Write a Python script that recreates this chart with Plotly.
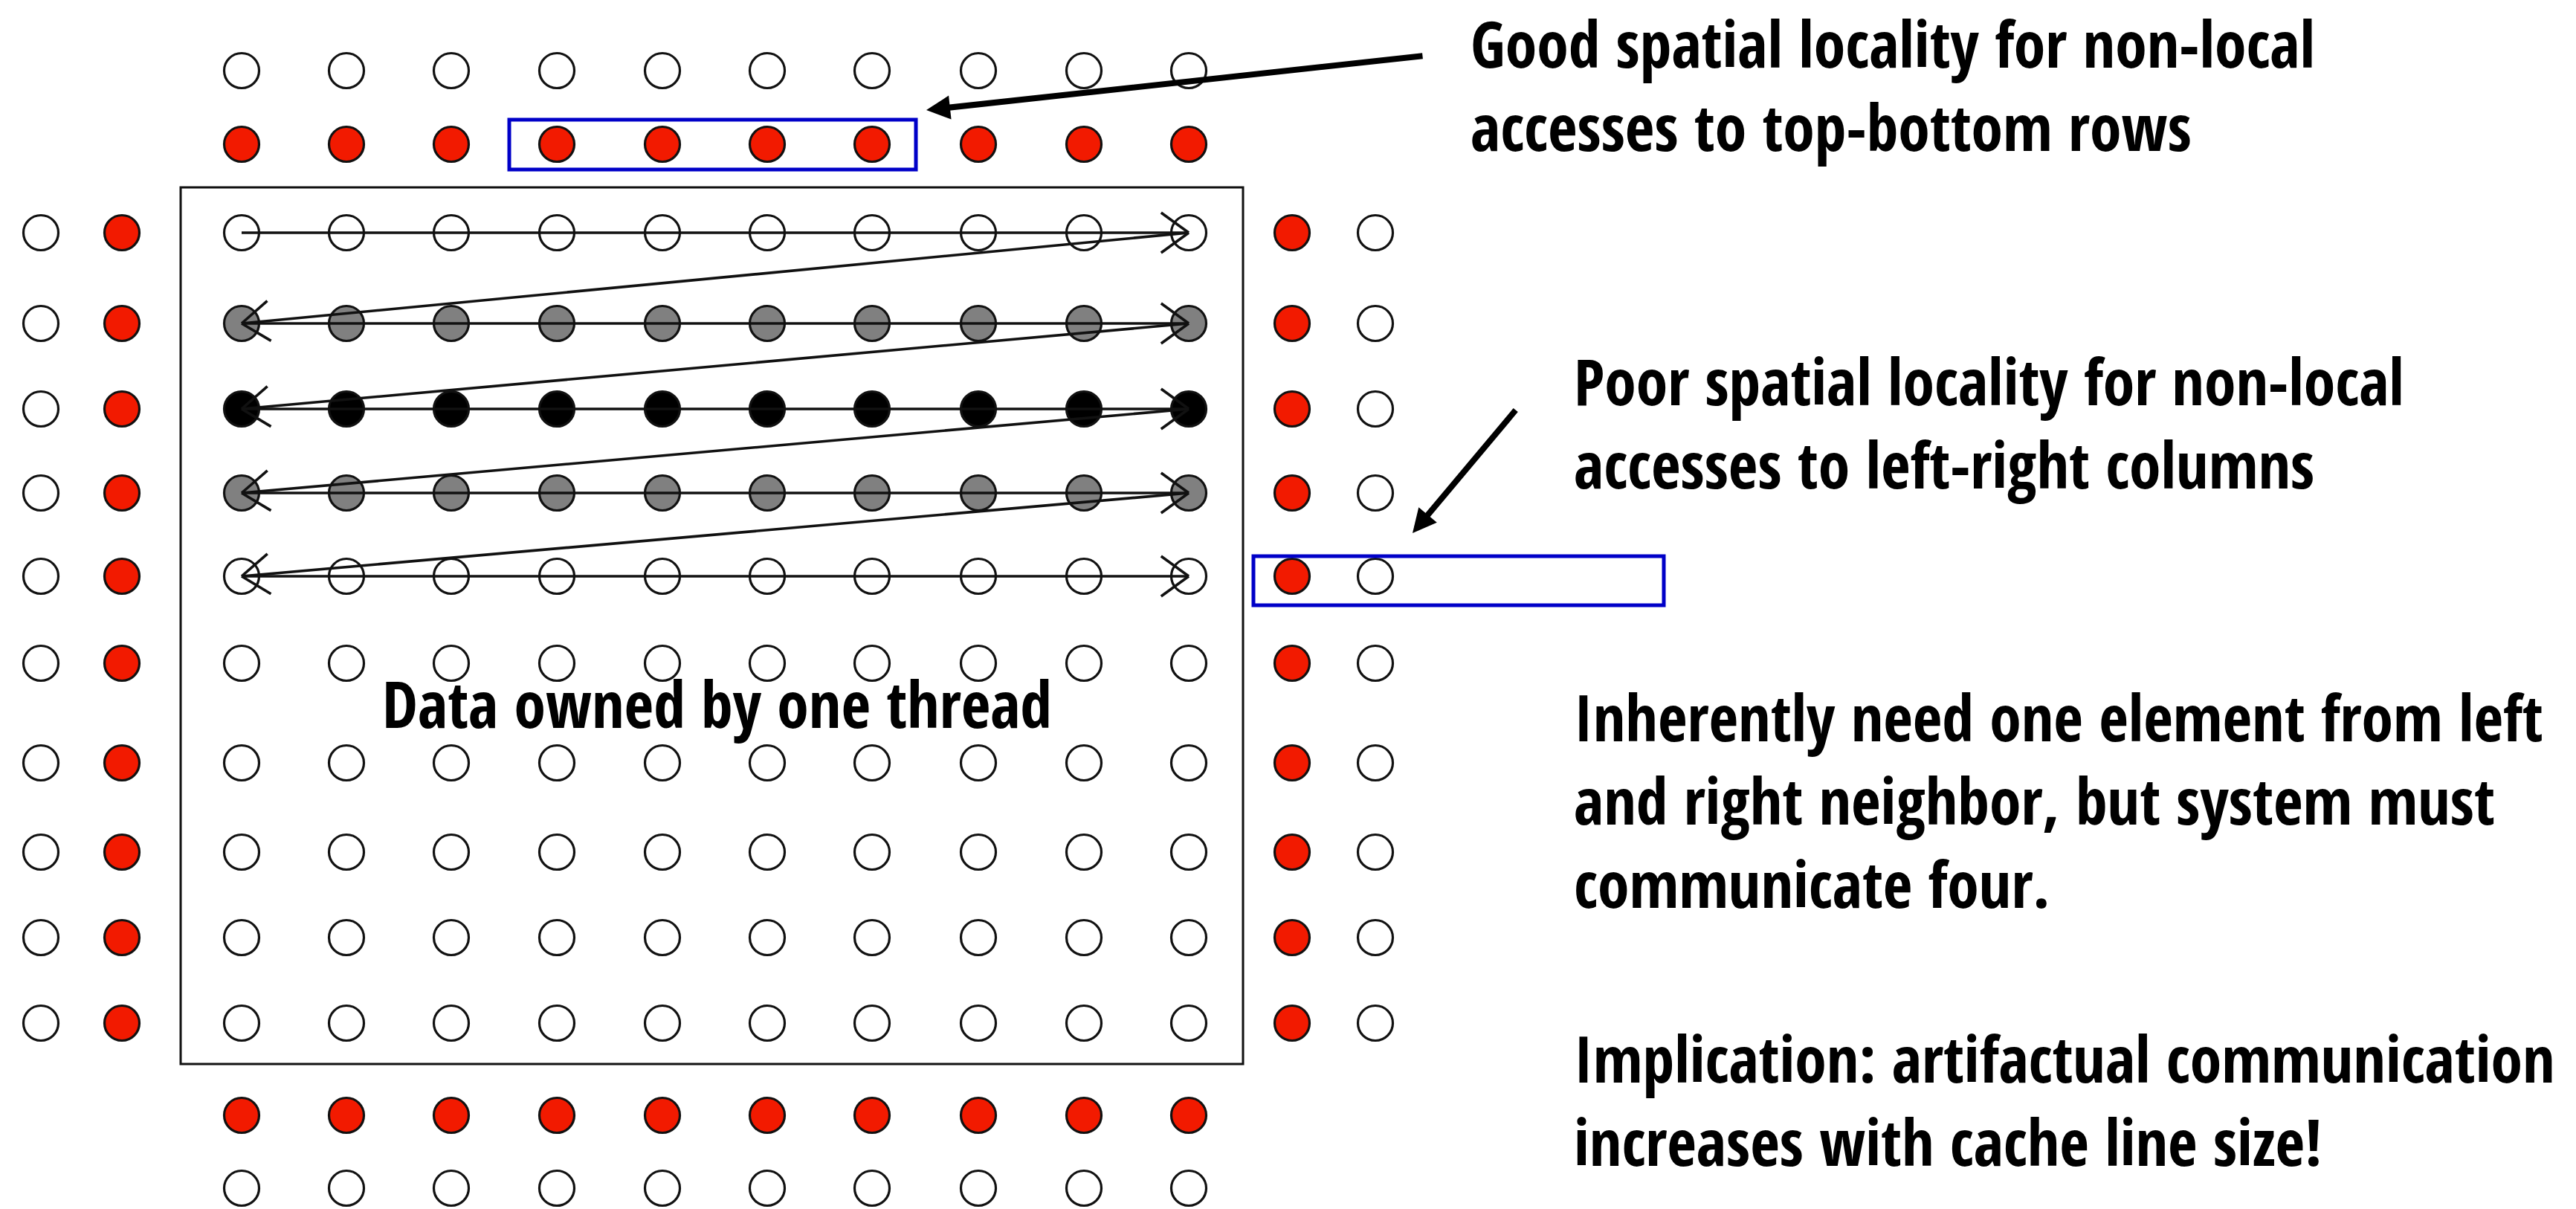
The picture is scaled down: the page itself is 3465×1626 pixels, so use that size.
import math
import plotly.graph_objects as go

# ---- data (pixel layout of the reference diagram) ----
col_x = [325, 466, 607, 749, 891, 1032, 1173, 1316, 1458, 1599]
row_y = [313, 435, 550, 663, 775, 892, 1026, 1146, 1261, 1376]
row_fill = ["white", "gray", "black", "gray", "white",
            "white", "white", "white", "white", "white"]
halo_top_y = [95, 194]        # outer (empty), inner (red)
halo_bottom_y = [1500, 1598]  # inner (red), outer (empty)
halo_left_x = [55, 164]       # outer (empty), inner (red)
halo_right_x = [1738, 1850]   # inner (red), outer (empty)
traversed_rows = 5

texts = [
    ("Good spatial locality for non-local<br>accesses to top-bottom rows", 1976, 93),
    ("Poor spatial locality for non-local<br>accesses to left-right columns", 2115, 547),
    ("Inherently need one element from left<br>and right neighbor, but system must<br>communicate four.", 2115, 999),
    ("Implication: artifactual communication<br>increases with cache line size!", 2115, 1458),
]
center_text = ("Data owned by one thread", 964, 981)

W, H = 3465, 1626
RED = "#F21A00"
GRAY = "#808080"
BLUE = "#0000C8"
FONT = "Open Sans Condensed, Roboto Condensed, sans-serif"
FS = 86
ASC = 1.12  # top-of-box to first baseline, in em

fills = {"white": "white", "gray": GRAY, "black": "black", "red": RED}

fig = go.Figure()

def dots(xs, ys, color):
    fig.add_trace(go.Scatter(
        x=xs, y=ys, mode="markers", hoverinfo="skip", showlegend=False,
        marker=dict(size=47, color=fills[color], line=dict(color="#111", width=3.2)),
    ))

# main grid
for r, y in enumerate(row_y):
    dots(col_x, [y] * len(col_x), row_fill[r])
# top/bottom halo rows
dots(col_x, [halo_top_y[0]] * 10, "white")
dots(col_x, [halo_top_y[1]] * 10, "red")
dots(col_x, [halo_bottom_y[0]] * 10, "red")
dots(col_x, [halo_bottom_y[1]] * 10, "white")
# left/right halo columns
dots([halo_left_x[0]] * 10, row_y, "white")
dots([halo_left_x[1]] * 10, row_y, "red")
dots([halo_right_x[0]] * 10, row_y, "red")
dots([halo_right_x[1]] * 10, row_y, "white")

# traversal zig-zag with open arrowheads
segs = []
for k in range(traversed_rows):
    segs.append(((col_x[0], row_y[k]), (col_x[-1], row_y[k])))
    if k < traversed_rows - 1:
        segs.append(((col_x[-1], row_y[k]), (col_x[0], row_y[k + 1])))
lx, ly = [], []
L, th = 46, math.radians(36)
for (x0, y0), (x1, y1) in segs:
    lx += [x0, x1, None]
    ly += [y0, y1, None]
    d = math.hypot(x1 - x0, y1 - y0)
    ux, uy = (x1 - x0) / d, (y1 - y0) / d
    for s in (1, -1):
        c, sn = math.cos(s * th), math.sin(s * th)
        rx, ry = ux * c - uy * sn, ux * sn + uy * c
        lx += [x1 - L * rx, x1, None]
        ly += [y1 - L * ry, y1, None]
fig.add_trace(go.Scatter(x=lx, y=ly, mode="lines", hoverinfo="skip", showlegend=False,
                         line=dict(color="#111", width=3.6)))

shapes = [
    dict(type="rect", x0=243, x1=1672, y0=252, y1=1431, line=dict(color="#111", width=3), layer="below"),
    dict(type="rect", x0=685, x1=1232, y0=161, y1=228, line=dict(color=BLUE, width=5)),
    dict(type="rect", x0=1686, x1=2238, y0=748, y1=814, line=dict(color=BLUE, width=5)),
]

def to_paper_y(ypx):
    return 1 - ypx / H

ann = []
for t, x, yb in texts:
    ann.append(dict(text=t, x=x, xref="x", y=to_paper_y(yb - ASC * FS), yref="paper",
                    xanchor="left", yanchor="top", align="left",
                    showarrow=False, font=dict(family=FONT, size=FS, color="black", weight="bold")))
t, x, yb = center_text
ann.append(dict(text=t, x=x, xref="x", y=to_paper_y(yb - ASC * FS), yref="paper",
                xanchor="center", yanchor="top",
                showarrow=False, font=dict(family=FONT, size=FS, color="black", weight="bold")))
# big pointer arrows
for (hx, hy), (tx, ty) in [((1246, 148), (1915, 75)), ((1900, 717), (2040, 550))]:
    ann.append(dict(text="", x=hx, y=hy, ax=tx, ay=ty, axref="x", ayref="y", xref="x", yref="y",
                    showarrow=True, arrowhead=2, arrowsize=0.8, arrowwidth=8, arrowcolor="black",
                    standoff=0))

fig.update_layout(
    width=W, height=H, margin=dict(l=0, r=0, t=0, b=0),
    paper_bgcolor="white", plot_bgcolor="white",
    xaxis=dict(range=[0, W], visible=False, fixedrange=True),
    yaxis=dict(range=[H, 0], visible=False, fixedrange=True),
    shapes=shapes, annotations=ann,
)
fig.write_html("out.html", config={"displayModeBar": False},
               post_script="document.body.style.margin='0';document.body.style.overflow='hidden';")
